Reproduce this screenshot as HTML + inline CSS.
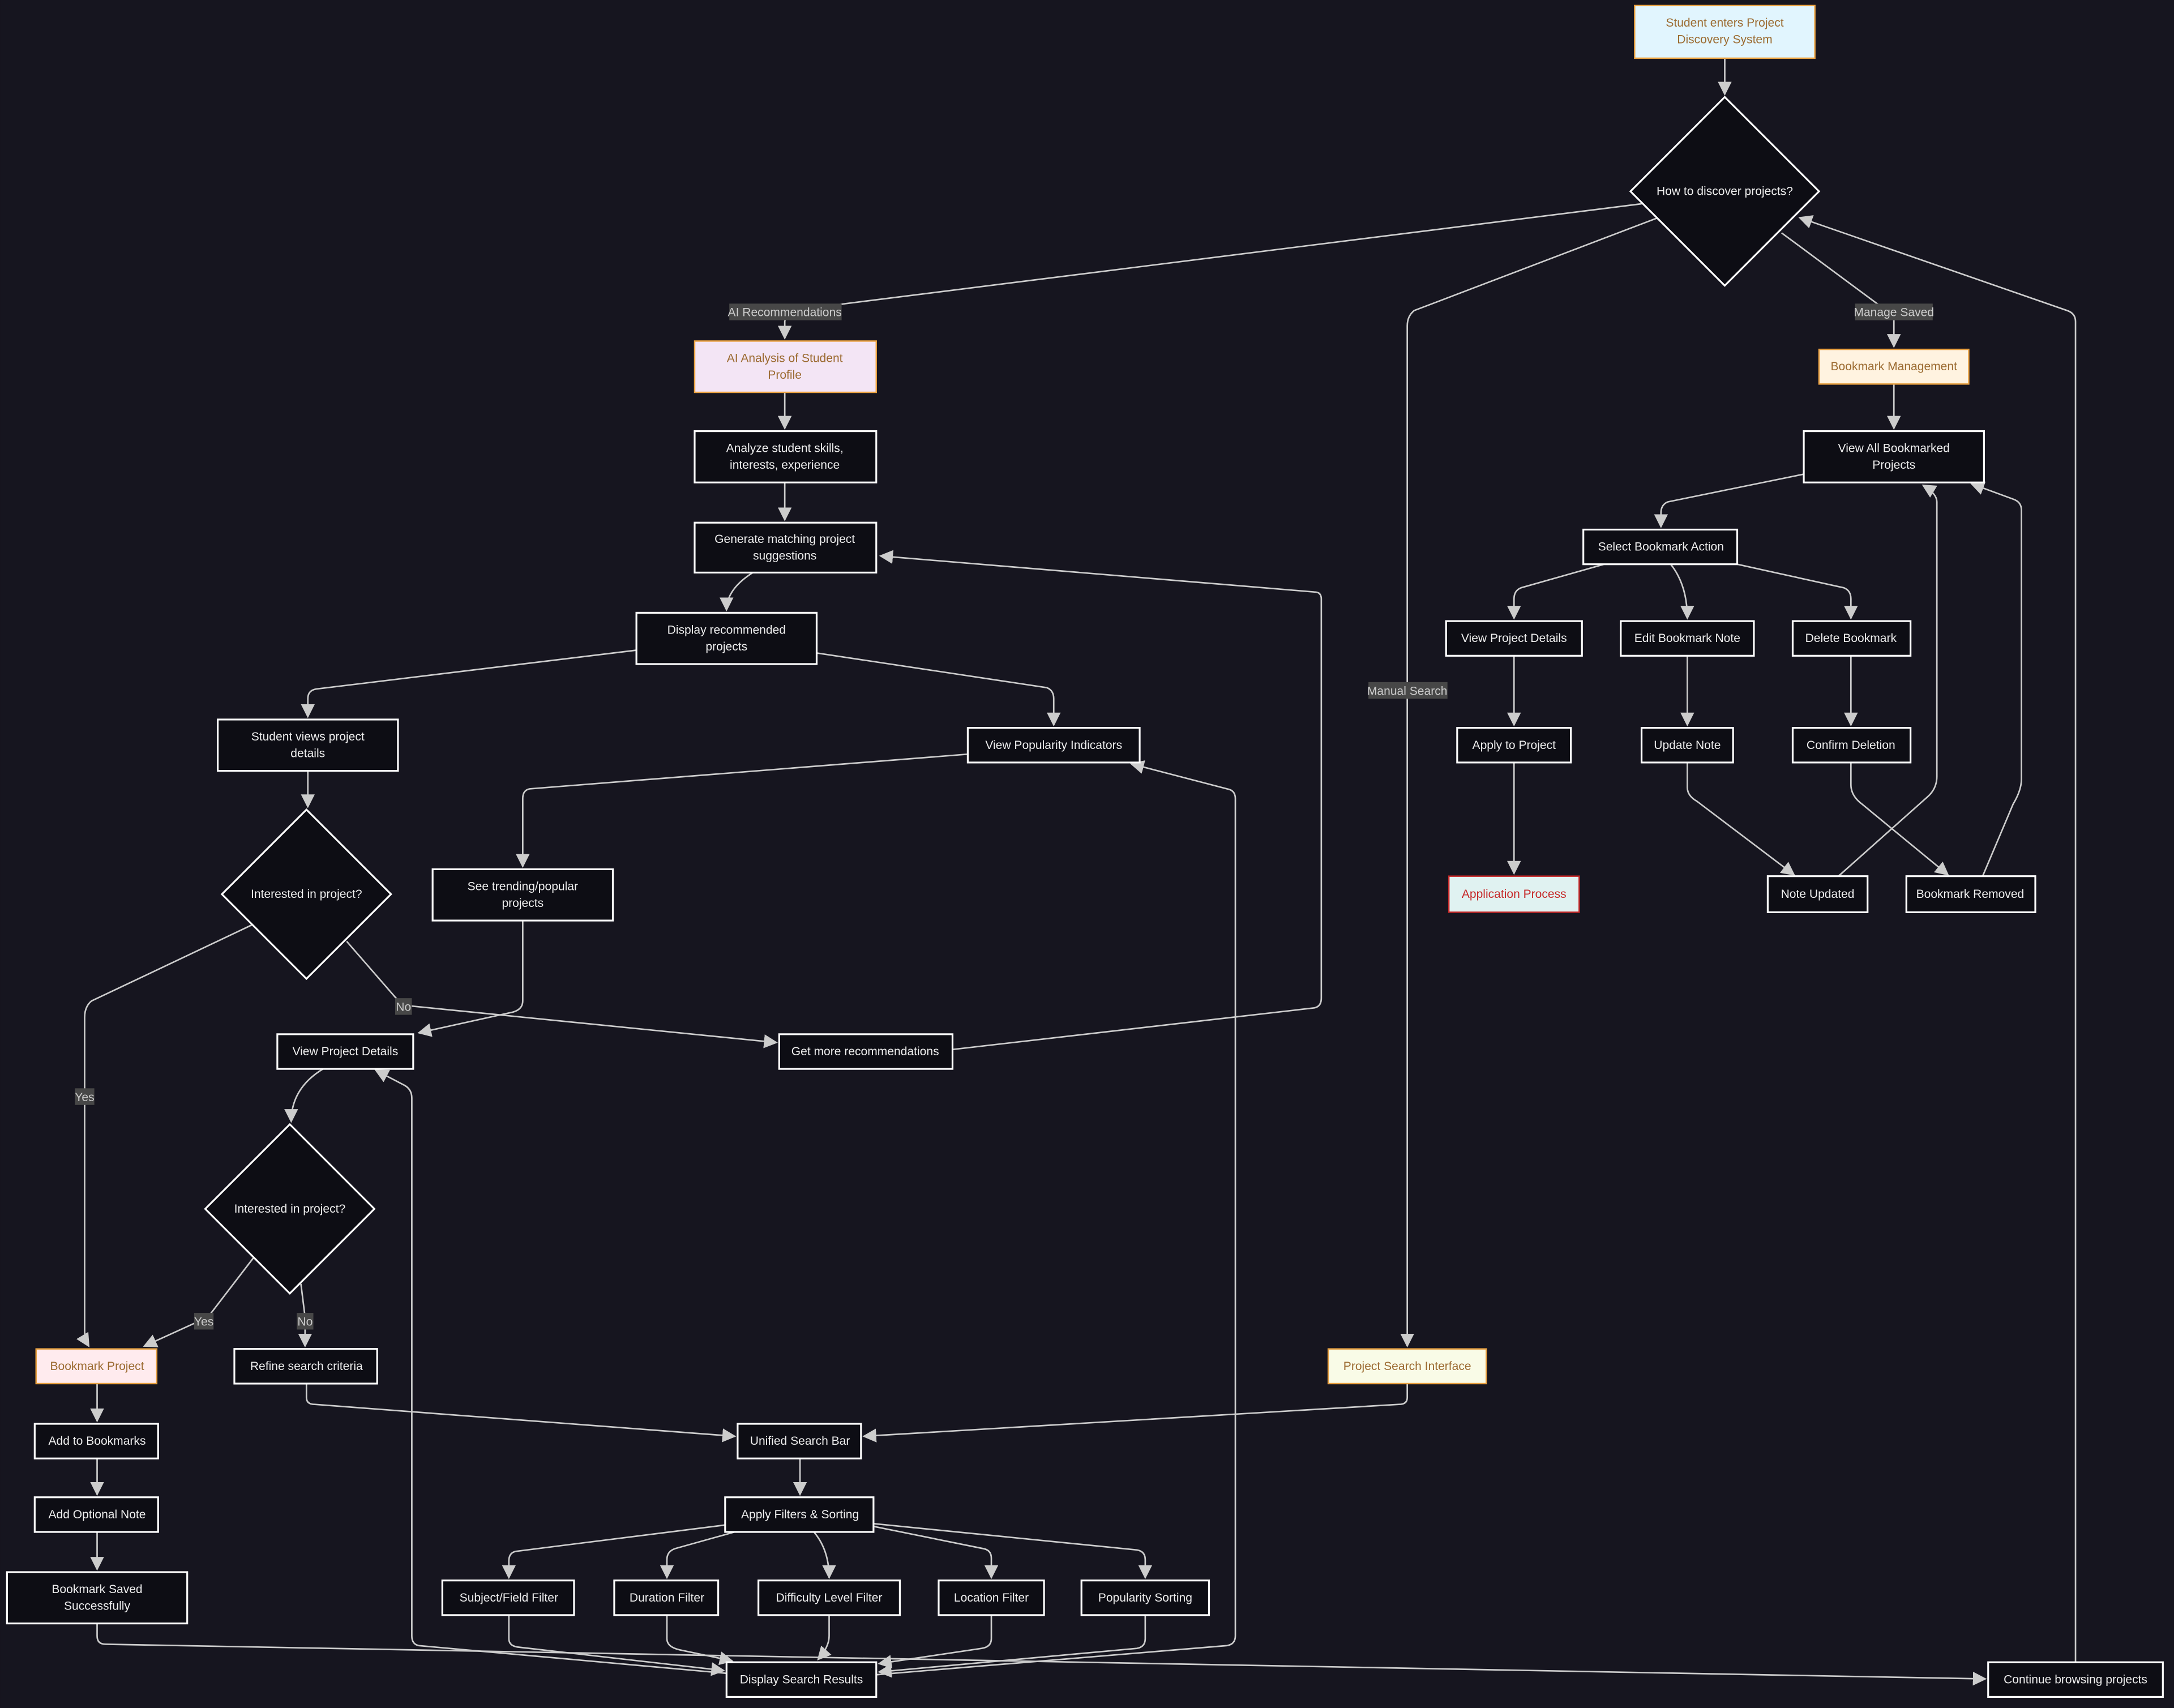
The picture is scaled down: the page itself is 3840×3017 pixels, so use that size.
<!DOCTYPE html>
<html><head><meta charset="utf-8"><style>
html,body{margin:0;padding:0;background:#16151f;}
svg{display:block;}
text{font-family:"Liberation Sans",sans-serif;font-size:8.6px;text-anchor:middle;dominant-baseline:central;}
.n{fill:#0d0d14;stroke:#fff;stroke-width:1.3;}
.t{fill:#eee;}
.e{fill:none;stroke:#ccc;stroke-width:1.1;marker-end:url(#a);}
.lb{fill:#474747;}
.lt{fill:#ccc;}
.sh{fill:#24232e;}
</style></head><body>
<svg width="3840" height="3017" viewBox="0 0 1568 1232" xmlns="http://www.w3.org/2000/svg">
<defs><marker id="a" markerUnits="userSpaceOnUse" markerWidth="10" markerHeight="10" viewBox="0 0 10 10" refX="9" refY="5" orient="auto"><path d="M0,0 L10,5 L0,10 z" fill="#ccc"/></marker></defs>
<rect width="1568" height="1232" fill="#16151f"/>

<!-- edges -->
<g>
<path class="e" d="M1244,42 L1244,68"/>
<path class="e" d="M1184,147 L610,219 Q566,225 566,232 L566,244"/>
<path class="e" d="M1196,157 L1020,224 Q1015,228 1015,235 L1015,971"/>
<path class="e" d="M1285,168 L1366,228 L1366,250"/>
<path class="e" d="M566,283 L566,309"/>
<path class="e" d="M566,348 L566,375"/>
<path class="e" d="M543,413 Q524,425 524,440"/>
<path class="e" d="M459,469 L228,497 Q222,498 222,504 L222,517"/>
<path class="e" d="M589,471 L755,496 Q760,498 760,504 L760,523"/>
<path class="e" d="M222,556 L222,582"/>
<path class="e" d="M698,544 L382,569 Q377,570 377,576 L377,625"/>
<path class="e" d="M182,667 L66,722 Q61,726 61,734 L61,960 Q61,966 64,971"/>
<path class="e" d="M250,679 L290,725 L560,752"/>
<path class="e" d="M377,664 L377,722 Q377,728 370,730 L302,745"/>
<path class="e" d="M687,757 L948,727 Q953,726 953,720 L953,432 Q953,427 948,427 L635,401"/>
<path class="e" d="M233,771 Q210,785 210,809"/>
<path class="e" d="M183,907 L150,950 L104,971"/>
<path class="e" d="M217,926 L220,950 L220,971"/>
<path class="e" d="M70,998 L70,1025"/>
<path class="e" d="M70,1052 L70,1078"/>
<path class="e" d="M70,1105 L70,1132"/>
<path class="e" d="M221,998 L221,1008 Q221,1013 227,1013 L530,1036"/>
<path class="e" d="M1015,998 L1015,1008 Q1015,1013 1009,1013 L623,1036"/>
<path class="e" d="M577,1052 L577,1078"/>
<path class="e" d="M523,1100 L372,1119 Q367,1120 367,1126 L367,1138"/>
<path class="e" d="M530,1105 L487,1117 Q481,1119 481,1125 L481,1138"/>
<path class="e" d="M587,1105 Q598,1118 598,1138"/>
<path class="e" d="M630,1101 L709,1117 Q715,1118 715,1124 L715,1138"/>
<path class="e" d="M630,1099 L820,1118 Q826,1119 826,1125 L826,1138"/>
<path class="e" d="M367,1165 L367,1182 Q367,1187 373,1188 L522,1205"/>
<path class="e" d="M481,1165 L481,1182 Q481,1188 490,1190 L528,1198"/>
<path class="e" d="M598,1165 L598,1180 Q598,1188 590,1197"/>
<path class="e" d="M715,1165 L715,1182 Q715,1188 708,1189 L634,1200"/>
<path class="e" d="M826,1165 L826,1182 Q826,1188 820,1189 L634,1206"/>
<path class="e" d="M524,1207 L302,1187 Q297,1186 297,1180 L297,792 Q297,786 292,783 L271,772"/>
<path class="e" d="M632,1208 L885,1187 Q891,1186 891,1180 L891,576 Q891,570 885,569 L816,551"/>
<path class="e" d="M70,1171 L70,1180 Q70,1186 76,1186 L1432,1211"/>
<path class="e" d="M1497,1199 L1497,232 Q1497,226 1491,224 L1298,157"/>
<path class="e" d="M1366,277 L1366,309"/>
<path class="e" d="M1301,342 L1203,362 Q1198,364 1198,370 L1198,380"/>
<path class="e" d="M1157,407 L1097,424 Q1092,426 1092,432 L1092,446"/>
<path class="e" d="M1205,407 Q1217,422 1217,446"/>
<path class="e" d="M1253,407 L1330,424 Q1335,426 1335,432 L1335,446"/>
<path class="e" d="M1092,473 L1092,523"/>
<path class="e" d="M1092,550 L1092,630"/>
<path class="e" d="M1217,473 L1217,523"/>
<path class="e" d="M1335,473 L1335,523"/>
<path class="e" d="M1217,550 L1217,568 Q1217,574 1224,578 L1294,631"/>
<path class="e" d="M1335,550 L1335,566 Q1335,574 1343,580 L1405,631"/>
<path class="e" d="M1326,632 L1390,575 Q1397,569 1397,560 L1397,362 Q1397,356 1387,350"/>
<path class="e" d="M1430,632 L1452,580 Q1458,570 1458,562 L1458,368 Q1458,362 1452,360 L1422,349"/>
</g>

<!-- edge labels -->
<g>
<rect class="lb" x="526" y="219" width="81" height="12"/><text class="lt" x="566" y="225.5">AI Recommendations</text>
<rect class="lb" x="1338" y="219" width="56" height="12"/><text class="lt" x="1366" y="225.5">Manage Saved</text>
<rect class="lb" x="987" y="492" width="57" height="12"/><text class="lt" x="1015" y="498.5">Manual Search</text>
<rect class="lb" x="54" y="785" width="14" height="12"/><text class="lt" x="61" y="791.5">Yes</text>
<rect class="lb" x="285" y="720" width="12" height="12"/><text class="lt" x="291" y="726.5">No</text>
<rect class="lb" x="140" y="947" width="14" height="12"/><text class="lt" x="147" y="953.5">Yes</text>
<rect class="lb" x="214" y="947" width="12" height="12"/><text class="lt" x="220" y="953.5">No</text>
</g>

<!-- nodes -->
<g>
<rect x="1179" y="4" width="130" height="38" fill="#e1f5fe" stroke="#e8a040" stroke-width="1"/>
<text x="1244" y="16.5" fill="#9b6a30">Student enters Project</text><text x="1244" y="28.5" fill="#9b6a30">Discovery System</text>

<polygon class="n" points="1244,70 1312,138 1244,206 1176,138"/><text class="t" x="1244" y="138">How to discover projects?</text>

<rect x="501" y="246" width="131" height="37" fill="#f3e5f5" stroke="#e8a040" stroke-width="1"/>
<text x="566" y="258.5" fill="#9b6a30">AI Analysis of Student</text><text x="566" y="270.5" fill="#9b6a30">Profile</text>

<rect class="n" x="501" y="311" width="131" height="37"/><text class="t" x="566" y="323.5">Analyze student skills,</text><text class="t" x="566" y="335.5">interests, experience</text>
<rect class="n" x="501" y="377" width="131" height="36"/><text class="t" x="566" y="389">Generate matching project</text><text class="t" x="566" y="401">suggestions</text>
<rect class="n" x="459" y="442" width="130" height="37"/><text class="t" x="524" y="454.5">Display recommended</text><text class="t" x="524" y="466.5">projects</text>
<rect class="n" x="157" y="519" width="130" height="37"/><text class="t" x="222" y="531.5">Student views project</text><text class="t" x="222" y="543.5">details</text>
<rect class="n" x="698" y="525" width="124" height="25"/><text class="t" x="760" y="537.5">View Popularity Indicators</text>
<polygon class="n" points="221,584 282,645 221,706 160,645"/><text class="t" x="221" y="645">Interested in project?</text>
<rect class="n" x="312" y="627" width="130" height="37"/><text class="t" x="377" y="639.5">See trending/popular</text><text class="t" x="377" y="651.5">projects</text>
<rect class="n" x="200" y="746" width="98" height="25"/><text class="t" x="249" y="758.5">View Project Details</text>
<rect class="n" x="562" y="746" width="125" height="25"/><text class="t" x="624" y="758.5">Get more recommendations</text>
<polygon class="n" points="209,811 270,872 209,933 148,872"/><text class="t" x="209" y="872">Interested in project?</text>

<rect x="26" y="973" width="87" height="25" fill="#ffebee" stroke="#e8a040" stroke-width="1"/><text x="70" y="985.5" fill="#9b6a30">Bookmark Project</text>
<rect class="n" x="169" y="973" width="103" height="25"/><text class="t" x="221" y="985.5">Refine search criteria</text>
<rect class="n" x="25" y="1027" width="89" height="25"/><text class="t" x="70" y="1039.5">Add to Bookmarks</text>
<rect class="n" x="25" y="1080" width="89" height="25"/><text class="t" x="70" y="1092.5">Add Optional Note</text>
<rect class="n" x="5" y="1134" width="130" height="37"/><text class="t" x="70" y="1146.5">Bookmark Saved</text><text class="t" x="70" y="1158.5">Successfully</text>

<rect class="n" x="532" y="1027" width="89" height="25"/><text class="t" x="577" y="1039.5">Unified Search Bar</text>
<rect class="n" x="523" y="1080" width="107" height="25"/><text class="t" x="577" y="1092.5">Apply Filters &amp; Sorting</text>
<rect class="n" x="319" y="1140" width="95" height="25"/><text class="t" x="367" y="1152.5">Subject/Field Filter</text>
<rect class="n" x="443" y="1140" width="75" height="25"/><text class="t" x="481" y="1152.5">Duration Filter</text>
<rect class="n" x="547" y="1140" width="102" height="25"/><text class="t" x="598" y="1152.5">Difficulty Level Filter</text>
<rect class="n" x="677" y="1140" width="76" height="25"/><text class="t" x="715" y="1152.5">Location Filter</text>
<rect class="n" x="780" y="1140" width="92" height="25"/><text class="t" x="826" y="1152.5">Popularity Sorting</text>
<rect class="n" x="524" y="1199" width="108" height="25"/><text class="t" x="578" y="1211.5">Display Search Results</text>
<rect class="n" x="1434" y="1199" width="126" height="25"/><text class="t" x="1497" y="1211.5">Continue browsing projects</text>

<rect x="958" y="973" width="114" height="25" fill="#f9fbe7" stroke="#e8a040" stroke-width="1"/><text x="1015" y="985.5" fill="#9b6a30">Project Search Interface</text>
<rect x="1312" y="252" width="108" height="25" fill="#fff3e0" stroke="#e8a040" stroke-width="1"/><text x="1366" y="264.5" fill="#9b6a30">Bookmark Management</text>

<rect class="n" x="1301" y="311" width="130" height="37"/><text class="t" x="1366" y="323.5">View All Bookmarked</text><text class="t" x="1366" y="335.5">Projects</text>
<rect class="n" x="1142" y="382" width="111" height="25"/><text class="t" x="1198" y="394.5">Select Bookmark Action</text>
<rect class="n" x="1043" y="448" width="98" height="25"/><text class="t" x="1092" y="460.5">View Project Details</text>
<rect class="n" x="1169" y="448" width="96" height="25"/><text class="t" x="1217" y="460.5">Edit Bookmark Note</text>
<rect class="n" x="1293" y="448" width="85" height="25"/><text class="t" x="1335" y="460.5">Delete Bookmark</text>
<rect class="n" x="1051" y="525" width="82" height="25"/><text class="t" x="1092" y="537.5">Apply to Project</text>
<rect class="n" x="1184" y="525" width="66" height="25"/><text class="t" x="1217" y="537.5">Update Note</text>
<rect class="n" x="1293" y="525" width="85" height="25"/><text class="t" x="1335" y="537.5">Confirm Deletion</text>
<rect x="1045" y="632" width="94" height="26" fill="#e0f2f1" stroke="#c62828" stroke-width="1"/><text x="1092" y="645" fill="#c62828">Application Process</text>
<rect class="n" x="1275" y="632" width="72" height="26"/><text class="t" x="1311" y="645">Note Updated</text>
<rect class="n" x="1375" y="632" width="93" height="26"/><text class="t" x="1421" y="645">Bookmark Removed</text>
</g>
</svg>
</body></html>
